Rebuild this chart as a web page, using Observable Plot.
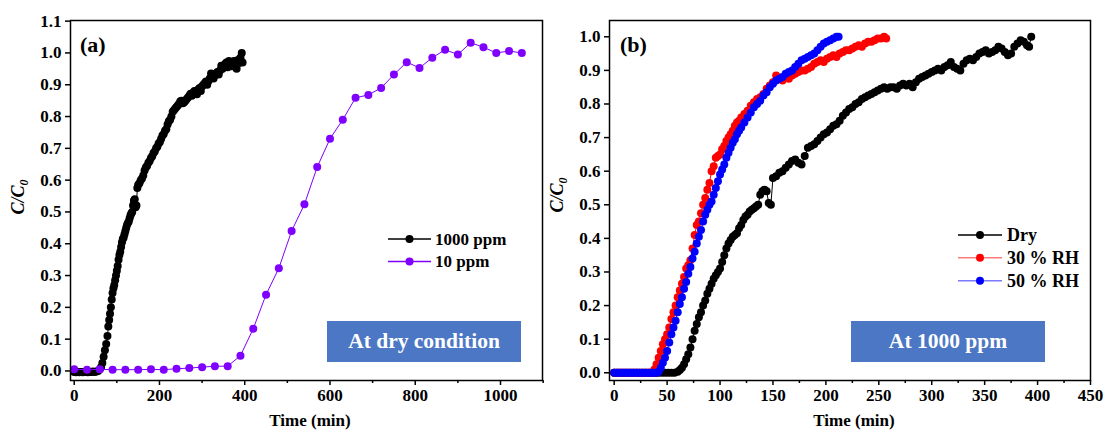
<!DOCTYPE html>
<html><head><meta charset="utf-8">
<script src="https://cdn.jsdelivr.net/npm/d3@7"></script>
<script src="https://cdn.jsdelivr.net/npm/@observablehq/plot@0.6"></script>
<style>
body{margin:0;background:#fff;}
#wrap{display:flex;width:1105px;height:430px;overflow:hidden;}
</style></head><body><div id="wrap"></div>
<script>
// ---------- Panel (a): at dry condition ----------
const a1000 = [[0,-0.003],[4,-0.004],[8,-0.003],[12,-0.004],[16,-0.003],[20,-0.004],[24,-0.003],[28,-0.003],[32,-0.004],[36,-0.003],[40,-0.003],[44,-0.002],[48,-0.003],[52,-0.002],[56,0.0],[60,0.005],[63,0.012],[66,0.025],[69,0.045],[72,0.065],[75,0.085],[78,0.11],[80,0.14],[82,0.16],[84,0.18],[86,0.2],[88,0.225],[90,0.245],[92,0.26],[94,0.27],[96,0.285],[98,0.3],[100,0.315],[102,0.33],[104,0.35],[106,0.365],[108,0.375],[110,0.39],[112,0.405],[114,0.415],[116,0.42],[118,0.43],[120,0.44],[122,0.45],[124,0.46],[126,0.465],[128,0.47],[130,0.48],[132,0.49],[134,0.495],[136,0.5],[138,0.52],[140,0.535],[142,0.54],[144,0.515],[146,0.52],[148,0.575],[150,0.585],[153,0.59],[156,0.6],[159,0.605],[162,0.615],[165,0.63],[168,0.64],[171,0.645],[174,0.655],[177,0.66],[180,0.67],[183,0.675],[186,0.685],[189,0.69],[192,0.7],[195,0.705],[198,0.715],[201,0.72],[204,0.73],[207,0.74],[210,0.745],[213,0.755],[216,0.76],[219,0.775],[222,0.785],[225,0.79],[228,0.8],[231,0.815],[234,0.82],[237,0.825],[240,0.83],[243,0.835],[246,0.84],[249,0.848],[252,0.85],[255,0.842],[258,0.845],[261,0.85],[264,0.855],[267,0.86],[270,0.865],[273,0.872],[276,0.865],[279,0.875],[282,0.88],[285,0.878],[288,0.87],[291,0.885],[294,0.89],[297,0.88],[300,0.895],[303,0.9],[306,0.905],[309,0.91],[312,0.9],[315,0.912],[318,0.92],[321,0.935],[324,0.928],[327,0.92],[330,0.93],[333,0.935],[336,0.94],[339,0.932],[342,0.945],[345,0.96],[348,0.95],[351,0.958],[354,0.965],[357,0.97],[360,0.955],[363,0.975],[366,0.965],[369,0.958],[372,0.965],[375,0.975],[378,0.962],[381,0.95],[384,0.978],[387,0.968],[390,0.985],[393,1.0],[395,0.97]];
const a10 = [[0,0.005],[30,0.004],[60,0.005],[90,0.004],[120,0.004],[150,0.004],[180,0.005],[210,0.004],[240,0.007],[270,0.009],[300,0.012],[330,0.015],[360,0.015],[390,0.048],[420,0.133],[450,0.24],[480,0.323],[510,0.44],[540,0.524],[570,0.641],[600,0.73],[630,0.79],[660,0.859],[690,0.868],[720,0.89],[750,0.932],[780,0.971],[810,0.953],[840,0.985],[870,1.01],[900,0.995],[930,1.032],[960,1.018],[990,1.0],[1020,1.006],[1050,1.0]];
const aXTicks = [0,200,400,600,800,1000];
const aXMinor = [100,300,500,700,900,1100];
const aYTicks = [0,0.1,0.2,0.3,0.4,0.5,0.6,0.7,0.8,0.9,1.0,1.1];
const aNames = ["1000 ppm","10 ppm"];
const aColors = ["#000000","#8000ff"];
const aLegendLine = ["#000000","#8000ff"];

// ---------- Panel (b): at 1000 ppm ----------
const bDry = [[0,0],[3,0],[6,0],[9,0],[12,0],[15,0],[18,0],[21,0],[24,0],[27,0],[30,0],[33,0],[36,0],[39,0],[42,0],[45,0],[48,0],[51,0],[54,0],[57,0],[60,0.003],[62,0.008],[64,0.015],[66,0.025],[68,0.04],[70,0.055],[72,0.075],[74,0.1],[76,0.125],[78,0.145],[80,0.165],[82,0.18],[84,0.2],[86,0.215],[88,0.235],[90,0.25],[92,0.265],[94,0.28],[96,0.29],[98,0.3],[100,0.31],[102,0.33],[104,0.35],[106,0.37],[108,0.385],[110,0.395],[112,0.405],[114,0.41],[116,0.415],[118,0.43],[120,0.44],[122,0.455],[124,0.465],[126,0.47],[128,0.48],[130,0.485],[132,0.49],[134,0.495],[136,0.5],[138,0.53],[140,0.54],[142,0.545],[144,0.54],[146,0.505],[148,0.5],[150,0.58],[153,0.585],[156,0.595],[159,0.6],[162,0.61],[165,0.62],[168,0.63],[171,0.635],[174,0.625],[177,0.62],[180,0.645],[183,0.67],[186,0.675],[189,0.68],[192,0.69],[195,0.7],[198,0.71],[201,0.715],[204,0.725],[207,0.735],[210,0.74],[213,0.75],[216,0.765],[219,0.775],[222,0.785],[225,0.79],[228,0.8],[231,0.805],[234,0.815],[237,0.82],[240,0.825],[243,0.83],[246,0.835],[249,0.84],[252,0.845],[255,0.85],[258,0.845],[261,0.85],[264,0.85],[267,0.845],[270,0.855],[273,0.86],[276,0.855],[279,0.86],[282,0.85],[285,0.865],[288,0.875],[291,0.88],[294,0.885],[297,0.89],[300,0.895],[303,0.9],[306,0.905],[309,0.9],[312,0.91],[315,0.915],[318,0.925],[321,0.91],[324,0.905],[327,0.9],[330,0.92],[333,0.93],[336,0.935],[339,0.93],[342,0.94],[345,0.95],[348,0.955],[351,0.96],[354,0.95],[357,0.955],[360,0.96],[363,0.97],[366,0.965],[369,0.955],[372,0.945],[375,0.95],[378,0.97],[381,0.98],[384,0.99],[387,0.985],[390,0.975],[392,0.97],[394,1.0]];
const b30 = [[0,0],[2,0],[4,0],[6,0],[8,0],[10,0],[12,0],[14,0],[16,0],[18,0],[20,0],[22,0],[24,0],[26,0],[28,0],[30,0],[32,0],[34,0],[36,0],[38,0.01],[40,0.025],[42,0.045],[44,0.065],[46,0.085],[48,0.1],[50,0.115],[52,0.135],[54,0.16],[56,0.18],[58,0.2],[60,0.225],[62,0.245],[64,0.265],[66,0.285],[68,0.31],[70,0.32],[72,0.335],[74,0.37],[76,0.41],[78,0.44],[80,0.45],[82,0.475],[84,0.5],[86,0.52],[88,0.545],[90,0.565],[92,0.6],[94,0.615],[96,0.64],[98,0.645],[100,0.65],[102,0.665],[104,0.675],[106,0.69],[108,0.7],[110,0.71],[112,0.72],[114,0.735],[116,0.745],[118,0.75],[120,0.76],[123,0.77],[126,0.78],[129,0.795],[132,0.805],[135,0.815],[138,0.82],[141,0.83],[144,0.845],[147,0.855],[150,0.865],[153,0.885],[156,0.875],[159,0.87],[162,0.88],[165,0.875],[168,0.885],[171,0.89],[174,0.895],[177,0.9],[180,0.9],[183,0.905],[186,0.91],[189,0.92],[192,0.925],[195,0.93],[198,0.925],[201,0.935],[204,0.94],[207,0.945],[210,0.94],[213,0.95],[216,0.955],[219,0.96],[222,0.96],[225,0.965],[228,0.97],[231,0.975],[234,0.97],[237,0.98],[240,0.985],[243,0.985],[246,0.99],[249,0.995],[252,0.995],[255,1.0],[257,0.995]];
const b50 = [[0,0],[2,0],[4,0],[6,0],[8,0],[10,0],[12,0],[14,0],[16,0],[18,0],[20,0],[22,0],[24,0],[26,0],[28,0],[30,0],[32,0],[34,0],[36,0],[38,0],[40,0],[42,0.003],[44,0.015],[46,0.03],[48,0.045],[50,0.065],[52,0.09],[54,0.115],[56,0.135],[58,0.155],[60,0.18],[62,0.205],[64,0.225],[66,0.25],[68,0.27],[70,0.295],[72,0.315],[74,0.34],[76,0.36],[78,0.385],[80,0.405],[82,0.425],[84,0.45],[86,0.47],[88,0.485],[90,0.5],[92,0.51],[94,0.53],[96,0.55],[98,0.57],[100,0.59],[102,0.605],[104,0.62],[106,0.64],[108,0.655],[110,0.67],[112,0.685],[114,0.695],[116,0.71],[118,0.72],[120,0.73],[123,0.745],[126,0.76],[129,0.775],[132,0.79],[135,0.8],[138,0.81],[141,0.825],[144,0.835],[147,0.85],[150,0.86],[153,0.87],[156,0.875],[159,0.88],[162,0.89],[165,0.895],[168,0.9],[171,0.91],[174,0.92],[177,0.93],[180,0.935],[183,0.94],[186,0.945],[189,0.95],[192,0.96],[195,0.97],[198,0.98],[201,0.985],[204,0.99],[207,0.995],[210,1.0],[212,1.0]];
const bXTicks = [0,50,100,150,200,250,300,350,400,450];
const bXMinor = [25,75,125,175,225,275,325,375,425];
const bYTicks = [0,0.1,0.2,0.3,0.4,0.5,0.6,0.7,0.8,0.9,1.0];
const bNames = ["Dry","30 % RH","50 % RH"];
const bColors = ["#000000","#ff0000","#0000ff"];
const bLegendLine = ["#000000","#ff7a7a","#7a7aff"];

const FONT = "'Liberation Serif','Times New Roman',serif";
const BOX = "#4b77c4";

function makePanel(cfg) {
  const tickText = {fontSize: 17, fontWeight: "bold", fontFamily: FONT, fill: "#000"};
  const marks = [
    Plot.axisX({ticks: cfg.xTicks, tickSize: 5, tickFormat: () => "", label: null, strokeWidth: 1.5}),
    Plot.axisX({ticks: cfg.xMinor, tickSize: 3, tickFormat: () => "", label: null, strokeWidth: 1.5}),
    Plot.axisY({ticks: cfg.yTicks, tickSize: 5, tickFormat: () => "", label: null, strokeWidth: 1.5}),
    Plot.text(cfg.xTicks, {x: d => d, frameAnchor: "bottom", dy: 20, text: d => String(d), textAnchor: "middle", ...tickText}),
    Plot.text(cfg.yTicks, {y: d => d, frameAnchor: "left", dx: -9, text: d => d3.format(".1f")(d), textAnchor: "end", ...tickText})
  ];
  cfg.series.forEach((s, i) => {
    marks.push(Plot.line(s, {x: d => d[0], y: d => d[1], stroke: cfg.colors[i], strokeWidth: 1}));
    marks.push(Plot.dot(s, {x: d => d[0], y: d => d[1], r: 4, fill: cfg.colors[i], stroke: "none"}));
  });
  marks.push(Plot.frame({stroke: "#000", strokeWidth: 1.5}));
  const svg = Plot.plot({
    width: cfg.width, height: 430,
    marginLeft: cfg.ml, marginRight: cfg.mr, marginTop: cfg.mt, marginBottom: 50,
    x: {domain: cfg.xDomain}, y: {domain: cfg.yDomain},
    style: {fontFamily: FONT, color: "#000", background: "#fff", overflow: "visible"},
    marks
  });
  const g = d3.select(svg).append("g").attr("font-family", FONT).attr("font-weight", "bold")
    .attr("fill", "#000").attr("text-anchor", "start");
  // y label C/C0
  const yl = g.append("text").attr("transform", `translate(${cfg.ylab[0]},${cfg.ylab[1]}) rotate(-90)`)
    .attr("text-anchor", "middle").attr("font-style", "italic").attr("font-size", 18);
  yl.append("tspan").text("C/C");
  yl.append("tspan").attr("font-size", 12).attr("dy", 4).text("0");
  // x label
  g.append("text").attr("x", cfg.xlab[0]).attr("y", cfg.xlab[1]).attr("text-anchor", "middle").attr("font-size", 17).text("Time (min)");
  // panel tag
  g.append("text").attr("x", cfg.tag[0]).attr("y", cfg.tag[1]).attr("font-size", 22).text(cfg.tag[2]);
  // legend
  cfg.names.forEach((n, i) => {
    const y = cfg.leg.ys[i];
    g.append("line").attr("x1", cfg.leg.x1).attr("x2", cfg.leg.x2).attr("y1", y).attr("y2", y)
      .attr("stroke", cfg.legendLine[i]).attr("stroke-width", 1.5);
    g.append("circle").attr("cx", (cfg.leg.x1 + cfg.leg.x2) / 2).attr("cy", y).attr("r", 4).attr("fill", cfg.colors[i]);
    g.append("text").attr("x", cfg.leg.tx).attr("y", y + cfg.leg.dy).attr("font-size", cfg.leg.fs).text(n);
  });
  // annotation box
  const b = cfg.box;
  g.append("rect").attr("x", b.x).attr("y", b.y).attr("width", b.w).attr("height", b.h).attr("fill", BOX);
  g.append("text").attr("x", b.x + b.w / 2).attr("y", b.y + 27).attr("text-anchor", "middle")
    .attr("font-size", 21.5).attr("fill", "#fff").text(b.text);
  return svg;
}

const wrap = document.getElementById("wrap");
wrap.appendChild(makePanel({
  width: 552, ml: 70, mr: 10, mt: 20,
  xDomain: [-8.7, 1098.5], yDomain: [-0.03, 1.102],
  xTicks: aXTicks, xMinor: aXMinor, yTicks: aYTicks,
  series: [a1000, a10], colors: aColors, legendLine: aLegendLine, names: aNames,
  ylab: [24, 197], xlab: [310, 426], tag: [80, 52, "(a)"],
  leg: {x1: 388, x2: 431, tx: 435, ys: [239, 261.5], dy: 5.5, fs: 17},
  box: {x: 327, y: 321, w: 194, h: 41, text: "At dry condition"}
}));
wrap.appendChild(makePanel({
  width: 553, ml: 57, mr: 15, mt: 20,
  xDomain: [-4.44, 450], yDomain: [-0.023, 1.0485],
  xTicks: bXTicks, xMinor: bXMinor, yTicks: bYTicks,
  series: [bDry, b30, b50], colors: bColors, legendLine: bLegendLine, names: bNames,
  ylab: [11, 195], xlab: [302, 426], tag: [68, 52, "(b)"],
  leg: {x1: 406, x2: 450, tx: 455, ys: [235, 257.7, 280.7], dy: 6, fs: 18},
  box: {x: 299, y: 321, w: 194, h: 41, text: "At 1000 ppm"}
}));
</script></body></html>
